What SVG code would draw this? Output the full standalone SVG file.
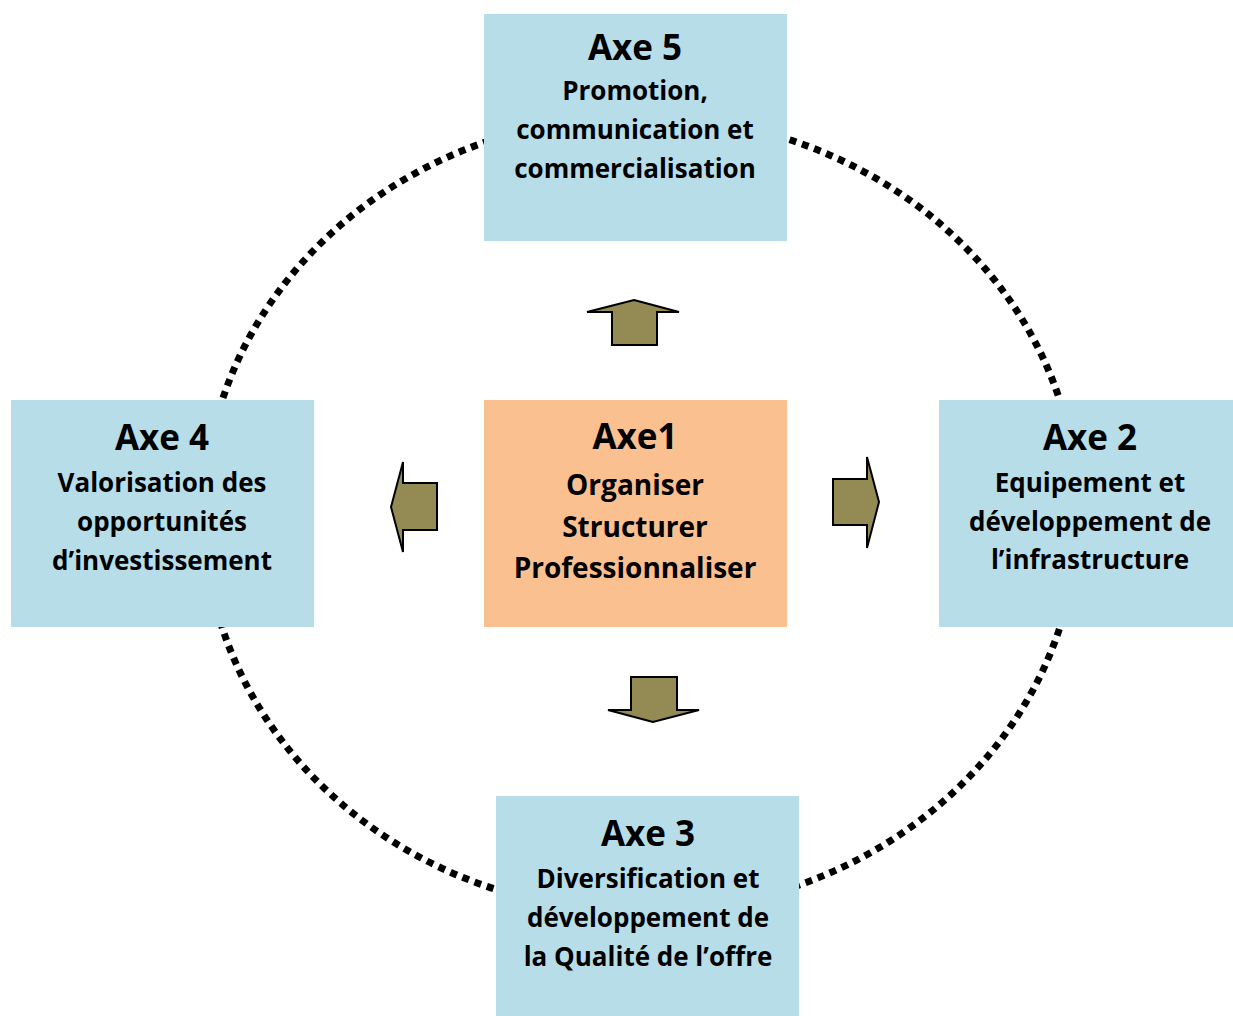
<svg xmlns="http://www.w3.org/2000/svg" width="1233" height="1016" viewBox="0 0 1233 1016">
<style>
.box{fill:#B7DDE8;}
.core{fill:#FAC090;}
text{font-family:"Open Sans","Liberation Sans",sans-serif;font-weight:bold;fill:#000;text-anchor:middle;}
.t{font-size:35px;}
.b{font-size:26px;}
.c{font-size:28px;}
.arr{fill:#948A54;stroke:#000;stroke-width:2;stroke-linejoin:miter;}
.ring{fill:none;stroke:#000;stroke-width:7;stroke-dasharray:7 6;}
</style>
<rect width="1233" height="1016" fill="#fff"/>
<g id="connectors">
<ellipse class="ring" cx="641" cy="514" rx="437" ry="398"/>
<polygon class="arr" points="634,300 679,312 657,312 657,345 612,345 612,312 587,312"/>
<polygon class="arr" points="391,507 403,462 403,483 437,483 437,530 403,530 403,552"/>
<polygon class="arr" points="879,502 867,548 867,525 833,525 833,479 867,479 867,457"/>
<polygon class="arr" points="653,722 608,710 631,710 631,677 677,677 677,710 699,710"/>
</g>
<g id="axe5">
<rect class="box" x="484" y="14" width="303" height="227"/>
<text class="t" x="635" y="60">Axe 5</text>
<text class="b" x="635" y="100">Promotion,</text>
<text class="b" x="635" y="139">communication et</text>
<text class="b" x="635" y="178">commercialisation</text>
</g>
<g id="axe4">
<rect class="box" x="11" y="400" width="303" height="227"/>
<text class="t" x="162" y="450">Axe 4</text>
<text class="b" x="162" y="492">Valorisation des</text>
<text class="b" x="162" y="531">opportunités</text>
<text class="b" x="162" y="570">d’investissement</text>
</g>
<g id="axe1">
<rect class="core" x="484" y="400" width="303" height="227"/>
<text class="t" x="635" y="449">Axe1</text>
<text class="c" x="635" y="495">Organiser</text>
<text class="c" x="635" y="537">Structurer</text>
<text class="c" x="635" y="578">Professionnaliser</text>
</g>
<g id="axe2">
<rect class="box" x="939" y="400" width="294" height="227"/>
<text class="t" x="1090" y="450">Axe 2</text>
<text class="b" x="1090" y="492">Equipement et</text>
<text class="b" x="1090" y="531">développement de</text>
<text class="b" x="1090" y="569">l’infrastructure</text>
</g>
<g id="axe3">
<rect class="box" x="496" y="796" width="303" height="220"/>
<text class="t" x="648" y="846">Axe 3</text>
<text class="b" x="648" y="888">Diversification et</text>
<text class="b" x="648" y="927">développement de</text>
<text class="b" x="648" y="966">la Qualité de l’offre</text>
</g>
</svg>
